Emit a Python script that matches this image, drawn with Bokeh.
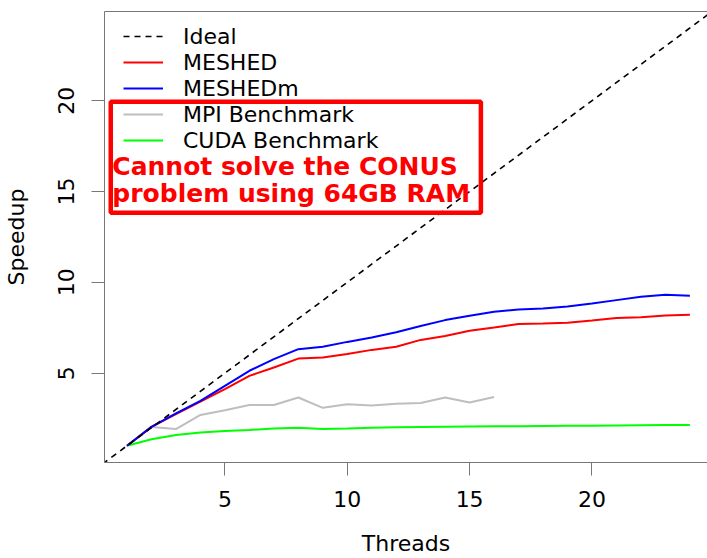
from bokeh.plotting import figure
from bokeh.models import (Range1d, FixedTicker, Legend, LegendItem, BoxAnnotation,
                          ColumnDataSource, LinearAxis)
from bokeh.core.properties import value
from bokeh.embed import file_html
from bokeh.resources import INLINE

# ---- data ----
threads = [1, 2, 3, 4, 5, 6, 7, 8, 9, 10, 11, 12,
           13, 14, 15, 16, 17, 18, 19, 20, 21, 22, 23, 24]
meshed = [1.00, 2.04, 2.74, 3.43, 4.12, 4.85, 5.31, 5.80, 5.86, 6.05, 6.28, 6.45,
          6.83, 7.05, 7.33, 7.51, 7.70, 7.73, 7.78, 7.90, 8.03, 8.08, 8.17, 8.22]
meshedm = [1.00, 2.04, 2.78, 3.47, 4.30, 5.13, 5.77, 6.32, 6.45, 6.72, 6.96, 7.25,
           7.60, 7.92, 8.16, 8.38, 8.50, 8.56, 8.67, 8.83, 9.02, 9.20, 9.31, 9.26]
mpi_threads = [1, 2, 3, 4, 5, 6, 7, 8, 9, 10, 11, 12, 13, 14, 15, 16]
mpi = [1.00, 2.04, 1.92, 2.70, 2.96, 3.25, 3.25, 3.66, 3.09, 3.29, 3.22, 3.32,
       3.36, 3.66, 3.38, 3.69]
cuda = [1.00, 1.36, 1.60, 1.73, 1.82, 1.87, 1.95, 1.99, 1.92, 1.95, 1.99, 2.02,
        2.04, 2.05, 2.06, 2.07, 2.08, 2.09, 2.10, 2.11, 2.12, 2.13, 2.14, 2.15]
ideal_x = [0, 26]
ideal_y = [0, 26]
x_ticks = [5, 10, 15, 20]
y_ticks = [5, 10, 15, 20]
series_labels = ["Ideal", "MESHED", "MESHEDm", "MPI Benchmark", "CUDA Benchmark"]
x_title = "Threads"
y_title = "Speedup"
note_lines = ["Cannot solve the CONUS", "problem using 64GB RAM"]

FONT = "DejaVu Sans"
AXIS_GRAY = "#777777"

X0, X1 = 0.08, 24.72
Y0, Y1 = 0.08, 24.91

p = figure(width=707, height=558, output_backend="svg", toolbar_location=None,
           x_range=Range1d(X0, X1), y_range=Range1d(Y0, Y1),
           min_border_left=104, min_border_right=0, min_border_top=11, min_border_bottom=96,
           x_axis_label=x_title, y_axis_label=y_title)

p.grid.visible = False
p.outline_line_color = None
p.background_fill_color = "white"
p.border_fill_color = "white"

for ax in (p.xaxis[0], p.yaxis[0]):
    ax.axis_line_color = AXIS_GRAY
    ax.major_tick_line_color = AXIS_GRAY
    ax.minor_tick_line_color = None
    ax.major_tick_in = 0
    ax.major_tick_out = 13
    ax.major_label_text_font = FONT
    ax.major_label_text_font_size = "22px"
    ax.major_label_text_color = "black"
    ax.axis_label_text_font = FONT
    ax.axis_label_text_font_size = "22px"
    ax.axis_label_text_font_style = "normal"
    ax.axis_label_text_color = "black"

p.xaxis[0].ticker = FixedTicker(ticks=x_ticks)
p.yaxis[0].ticker = FixedTicker(ticks=y_ticks)
p.xaxis[0].major_label_standoff = 15
p.yaxis[0].major_label_standoff = 17
p.yaxis[0].major_label_orientation = "vertical"
p.xaxis[0].axis_label_standoff = 21
p.yaxis[0].axis_label_standoff = 27

# top edge of the box (R's box())
top_axis = LinearAxis(ticker=FixedTicker(ticks=[]), axis_line_color=AXIS_GRAY,
                      major_tick_out=0, major_tick_in=0, minor_tick_line_color=None,
                      major_label_text_font_size="0px", major_label_standoff=0)
p.add_layout(top_axis, "above")

r_mpi = p.line(mpi_threads, mpi, line_color="#bebebe", line_width=2)
r_cuda = p.line(threads, cuda, line_color="#00ff00", line_width=2)
r_meshed = p.line(threads, meshed, line_color="#ff0000", line_width=2)
r_meshedm = p.line(threads, meshedm, line_color="#0000ff", line_width=2)
r_ideal = p.line(ideal_x, ideal_y, line_color="black", line_width=1.6, line_dash="6 5")

legend = Legend(items=[
    LegendItem(label=series_labels[0], renderers=[r_ideal]),
    LegendItem(label=series_labels[1], renderers=[r_meshed]),
    LegendItem(label=series_labels[2], renderers=[r_meshedm]),
    LegendItem(label=series_labels[3], renderers=[r_mpi]),
    LegendItem(label=series_labels[4], renderers=[r_cuda]),
], location=(19, 309))
legend.label_text_font = FONT
legend.label_text_font_size = "22px"
legend.label_text_color = "black"
legend.glyph_width = 40
legend.glyph_height = 26
legend.label_height = 26
legend.label_standoff = 20
legend.spacing = 0
legend.padding = 0
legend.margin = 0
legend.border_line_color = None
legend.background_fill_alpha = 0
p.add_layout(legend)

box = BoxAnnotation(left=0.335, right=15.46, bottom=13.83, top=19.94,
                    fill_color=None, fill_alpha=0, line_color="#ff0000",
                    line_alpha=1.0, line_width=4.5)
p.add_layout(box)

note_src = ColumnDataSource(dict(x=[0.40, 0.40], y=[16.35, 14.88], text=note_lines))
p.text(x="x", y="y", text="text", source=note_src, text_color="#ff0000",
       text_font=value(FONT), text_font_style="bold", text_font_size="25px",
       text_align="left", text_baseline="alphabetic")

open("out.html", "w").write(file_html(p, INLINE))
